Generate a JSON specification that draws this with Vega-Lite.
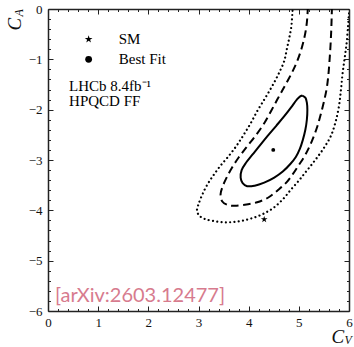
{
  "$schema": "https://vega.github.io/schema/vega-lite/v6.json",
  "width": 301,
  "height": 302,
  "autosize": {"type": "none"},
  "padding": {"left": 48, "top": 9, "right": 5, "bottom": 36},
  "background": "white",
  "config": {
    "view": {"stroke": null},
    "axis": {
      "grid": false,
      "domainColor": "#222",
      "domainWidth": 1.5,
      "tickColor": "#222",
      "tickWidth": 1,
      "labelFont": "Liberation Serif",
      "labelFontSize": 13,
      "labelColor": "#111",
      "labelFlush": false,
      "labelOverlap": false,
      "labelBound": false,
      "titleFont": "Liberation Serif",
      "titleFontWeight": "normal",
      "titleFontStyle": "italic",
      "titleColor": "#111"
    }
  },
  "datasets": {
    "dotted": [
      {"i": 1, "x": 4.88, "y": 0.05}, {"i": 2, "x": 4.87, "y": -0.1}, {"i": 3, "x": 4.85, "y": -0.35},
      {"i": 4, "x": 4.81, "y": -0.57}, {"i": 5, "x": 4.76, "y": -0.8}, {"i": 6, "x": 4.71, "y": -1.03},
      {"i": 7, "x": 4.63, "y": -1.22}, {"i": 8, "x": 4.54, "y": -1.4}, {"i": 9, "x": 4.43, "y": -1.6},
      {"i": 10, "x": 4.31, "y": -1.8}, {"i": 11, "x": 4.17, "y": -2.03}, {"i": 12, "x": 4.04, "y": -2.27},
      {"i": 13, "x": 3.9, "y": -2.5}, {"i": 14, "x": 3.77, "y": -2.7}, {"i": 15, "x": 3.62, "y": -2.9},
      {"i": 16, "x": 3.45, "y": -3.1}, {"i": 17, "x": 3.3, "y": -3.3}, {"i": 18, "x": 3.17, "y": -3.5},
      {"i": 19, "x": 3.07, "y": -3.7}, {"i": 20, "x": 3.0, "y": -3.88}, {"i": 21, "x": 2.97, "y": -4.0},
      {"i": 22, "x": 3.01, "y": -4.1}, {"i": 23, "x": 3.12, "y": -4.17}, {"i": 24, "x": 3.3, "y": -4.21},
      {"i": 25, "x": 3.51, "y": -4.24}, {"i": 26, "x": 3.7, "y": -4.23}, {"i": 27, "x": 3.9, "y": -4.2},
      {"i": 28, "x": 4.12, "y": -4.14}, {"i": 29, "x": 4.33, "y": -4.05}, {"i": 30, "x": 4.52, "y": -3.93},
      {"i": 31, "x": 4.7, "y": -3.76}, {"i": 32, "x": 4.85, "y": -3.58}, {"i": 33, "x": 5.0, "y": -3.41},
      {"i": 34, "x": 5.12, "y": -3.26}, {"i": 35, "x": 5.25, "y": -3.1}, {"i": 36, "x": 5.38, "y": -2.93},
      {"i": 37, "x": 5.52, "y": -2.73}, {"i": 38, "x": 5.64, "y": -2.52}, {"i": 39, "x": 5.73, "y": -2.25},
      {"i": 40, "x": 5.8, "y": -1.93}, {"i": 41, "x": 5.84, "y": -1.6}, {"i": 42, "x": 5.87, "y": -1.3},
      {"i": 43, "x": 5.91, "y": -1.0}, {"i": 44, "x": 5.95, "y": -0.7}, {"i": 45, "x": 5.98, "y": -0.35},
      {"i": 46, "x": 6.0, "y": -0.1}, {"i": 47, "x": 6.02, "y": 0.05}
    ],
    "dashed": [
      {"i": 1, "x": 5.18, "y": 0.05}, {"i": 2, "x": 5.17, "y": -0.15}, {"i": 3, "x": 5.15, "y": -0.35},
      {"i": 4, "x": 5.11, "y": -0.57}, {"i": 5, "x": 5.05, "y": -0.8}, {"i": 6, "x": 4.97, "y": -1.03},
      {"i": 7, "x": 4.88, "y": -1.23}, {"i": 8, "x": 4.78, "y": -1.42}, {"i": 9, "x": 4.67, "y": -1.62},
      {"i": 10, "x": 4.57, "y": -1.8}, {"i": 11, "x": 4.45, "y": -2.02}, {"i": 12, "x": 4.31, "y": -2.27},
      {"i": 13, "x": 4.15, "y": -2.5}, {"i": 14, "x": 3.97, "y": -2.73}, {"i": 15, "x": 3.8, "y": -2.95},
      {"i": 16, "x": 3.67, "y": -3.15}, {"i": 17, "x": 3.56, "y": -3.35}, {"i": 18, "x": 3.48, "y": -3.53},
      {"i": 19, "x": 3.44, "y": -3.68}, {"i": 20, "x": 3.47, "y": -3.82}, {"i": 21, "x": 3.57, "y": -3.89},
      {"i": 22, "x": 3.71, "y": -3.91}, {"i": 23, "x": 3.92, "y": -3.89}, {"i": 24, "x": 4.17, "y": -3.84},
      {"i": 25, "x": 4.4, "y": -3.74}, {"i": 26, "x": 4.58, "y": -3.6}, {"i": 27, "x": 4.75, "y": -3.45},
      {"i": 28, "x": 4.88, "y": -3.28}, {"i": 29, "x": 5.0, "y": -3.1}, {"i": 30, "x": 5.11, "y": -2.93},
      {"i": 31, "x": 5.2, "y": -2.76}, {"i": 32, "x": 5.29, "y": -2.55}, {"i": 33, "x": 5.37, "y": -2.33},
      {"i": 34, "x": 5.44, "y": -2.08}, {"i": 35, "x": 5.51, "y": -1.8}, {"i": 36, "x": 5.56, "y": -1.55},
      {"i": 37, "x": 5.59, "y": -1.3}, {"i": 38, "x": 5.61, "y": -1.05}, {"i": 39, "x": 5.63, "y": -0.75},
      {"i": 40, "x": 5.645, "y": -0.45}, {"i": 41, "x": 5.655, "y": -0.15}, {"i": 42, "x": 5.66, "y": 0.05}
    ],
    "solid": [
      {"i": 1, "x": 5.07, "y": -1.72}, {"i": 2, "x": 5.13, "y": -1.76}, {"i": 3, "x": 5.16, "y": -1.86},
      {"i": 4, "x": 5.17, "y": -2.0}, {"i": 5, "x": 5.16, "y": -2.2}, {"i": 6, "x": 5.13, "y": -2.4},
      {"i": 7, "x": 5.08, "y": -2.6}, {"i": 8, "x": 5.02, "y": -2.78}, {"i": 9, "x": 4.94, "y": -2.94},
      {"i": 10, "x": 4.83, "y": -3.08}, {"i": 11, "x": 4.68, "y": -3.23}, {"i": 12, "x": 4.51, "y": -3.35},
      {"i": 13, "x": 4.31, "y": -3.45}, {"i": 14, "x": 4.12, "y": -3.51}, {"i": 15, "x": 3.97, "y": -3.52},
      {"i": 16, "x": 3.88, "y": -3.46}, {"i": 17, "x": 3.84, "y": -3.35}, {"i": 18, "x": 3.86, "y": -3.2},
      {"i": 19, "x": 3.95, "y": -3.05}, {"i": 20, "x": 4.07, "y": -2.9}, {"i": 21, "x": 4.2, "y": -2.74},
      {"i": 22, "x": 4.37, "y": -2.53}, {"i": 23, "x": 4.55, "y": -2.32}, {"i": 24, "x": 4.71, "y": -2.13},
      {"i": 25, "x": 4.85, "y": -1.95}, {"i": 26, "x": 4.96, "y": -1.8}, {"i": 27, "x": 5.02, "y": -1.74},
      {"i": 28, "x": 5.07, "y": -1.72}
    ],
    "sm": [{"x": 4.31, "y": -4.18}],
    "bestfit": [{"x": 4.49, "y": -2.8}],
    "legstar": [{"x": 0.81, "y": -0.6}],
    "legdot": [{"x": 0.81, "y": -1.0}],
    "labels": [
      {"x": 1.41, "y": -0.6, "t": "SM"},
      {"x": 1.41, "y": -1.0, "t": "Best Fit"},
      {"x": 0.42, "y": -1.52, "t": "LHCb 8.4fb⁻¹"},
      {"x": 0.42, "y": -1.82, "t": "HPQCD FF"}
    ],
    "arxiv": [{"x": 0.14, "y": -5.82, "t": "[arXiv:2603.12477]"}]
  },
  "resolve": {"axis": {"x": "independent", "y": "independent"}},
  "layer": [
    {
      "data": {"name": "dotted"},
      "mark": {"type": "line", "clip": true, "color": "black", "strokeWidth": 2.2, "strokeDash": [0.01, 4.3], "strokeCap": "round", "interpolate": "catmull-rom"},
      "encoding": {
        "order": {"field": "i", "type": "quantitative"},
        "x": {"field": "x", "type": "quantitative", "scale": {"domain": [0, 6], "nice": false, "zero": false},
          "axis": {"orient": "bottom", "values": [0, 1, 2, 3, 4, 5, 6], "ticks": false, "labelPadding": 5,
            "title": "C", "titleFontSize": 19, "titleX": 283, "titleY": 31, "titleAlign": "left", "titleBaseline": "alphabetic", "titleAngle": 0}},
        "y": {"field": "y", "type": "quantitative", "scale": {"domain": [-6, 0], "nice": false, "zero": false},
          "axis": {"orient": "left", "values": [-6, -5, -4, -3, -2, -1, 0], "ticks": false, "labelPadding": 6,
            "title": "C", "titleFontSize": 19, "titleX": -28, "titleY": 21, "titleAlign": "left", "titleBaseline": "alphabetic", "titleAngle": 270}}
      }
    },
    {
      "data": {"name": "dashed"},
      "mark": {"type": "line", "clip": true, "color": "black", "strokeWidth": 2, "strokeDash": [7.5, 4.5], "interpolate": "catmull-rom"},
      "encoding": {
        "order": {"field": "i", "type": "quantitative"},
        "x": {"field": "x", "type": "quantitative", "scale": {"domain": [0, 6], "nice": false, "zero": false},
          "axis": {"orient": "top", "values": [0, 1, 2, 3, 4, 5, 6], "labels": false, "tickSize": -5,
            "title": "V", "titleFontSize": 12, "titleX": 296, "titleY": 334, "titleAlign": "left", "titleBaseline": "alphabetic", "titleAngle": 0}},
        "y": {"field": "y", "type": "quantitative", "scale": {"domain": [-6, 0], "nice": false, "zero": false},
          "axis": {"orient": "right", "values": [-6, -5, -4, -3, -2, -1, 0], "labels": false, "tickSize": -5,
            "title": "A", "titleFontSize": 12, "titleX": -327, "titleY": 7, "titleAlign": "left", "titleBaseline": "alphabetic", "titleAngle": 270}}
      }
    },
    {
      "data": {"name": "solid"},
      "mark": {"type": "line", "clip": true, "color": "black", "strokeWidth": 2, "interpolate": "catmull-rom"},
      "encoding": {
        "order": {"field": "i", "type": "quantitative"},
        "x": {"field": "x", "type": "quantitative", "scale": {"domain": [0, 6], "nice": false, "zero": false},
          "axis": {"orient": "bottom", "values": [0, 1, 2, 3, 4, 5, 6], "labels": false, "domain": false, "tickSize": -5, "title": null}},
        "y": {"field": "y", "type": "quantitative", "scale": {"domain": [-6, 0], "nice": false, "zero": false},
          "axis": {"orient": "left", "values": [-6, -5, -4, -3, -2, -1, 0], "labels": false, "domain": false, "tickSize": -5, "title": null}}
      }
    },
    {
      "data": {"name": "sm"},
      "mark": {"type": "point", "shape": "M0,-1L0.2245,-0.309L0.951,-0.309L0.363,0.118L0.588,0.809L0,0.382L-0.588,0.809L-0.363,0.118L-0.951,-0.309L-0.2245,-0.309Z", "filled": true, "color": "black", "opacity": 1, "size": 49},
      "encoding": {
        "x": {"field": "x", "type": "quantitative", "scale": {"domain": [0, 6], "nice": false, "zero": false},
          "axis": {"orient": "top", "values": [0.2, 0.4, 0.6, 0.8, 1.2, 1.4, 1.6, 1.8, 2.2, 2.4, 2.6, 2.8, 3.2, 3.4, 3.6, 3.8, 4.2, 4.4, 4.6, 4.8, 5.2, 5.4, 5.6, 5.8], "labels": false, "domain": false, "tickSize": -2.5, "title": null}},
        "y": {"field": "y", "type": "quantitative", "scale": {"domain": [-6, 0], "nice": false, "zero": false},
          "axis": {"orient": "right", "values": [-5.8, -5.6, -5.4, -5.2, -4.8, -4.6, -4.4, -4.2, -3.8, -3.6, -3.4, -3.2, -2.8, -2.6, -2.4, -2.2, -1.8, -1.6, -1.4, -1.2, -0.8, -0.6, -0.4, -0.2], "labels": false, "domain": false, "tickSize": -2.5, "title": null}}
      }
    },
    {
      "data": {"name": "bestfit"},
      "mark": {"type": "point", "shape": "circle", "filled": true, "color": "black", "opacity": 1, "size": 15},
      "encoding": {
        "x": {"field": "x", "type": "quantitative", "scale": {"domain": [0, 6], "nice": false, "zero": false},
          "axis": {"orient": "bottom", "values": [0.2, 0.4, 0.6, 0.8, 1.2, 1.4, 1.6, 1.8, 2.2, 2.4, 2.6, 2.8, 3.2, 3.4, 3.6, 3.8, 4.2, 4.4, 4.6, 4.8, 5.2, 5.4, 5.6, 5.8], "labels": false, "domain": false, "tickSize": -2.5, "title": null}},
        "y": {"field": "y", "type": "quantitative", "scale": {"domain": [-6, 0], "nice": false, "zero": false},
          "axis": {"orient": "left", "values": [-5.8, -5.6, -5.4, -5.2, -4.8, -4.6, -4.4, -4.2, -3.8, -3.6, -3.4, -3.2, -2.8, -2.6, -2.4, -2.2, -1.8, -1.6, -1.4, -1.2, -0.8, -0.6, -0.4, -0.2], "labels": false, "domain": false, "tickSize": -2.5, "title": null}}
      }
    },
    {
      "data": {"name": "legstar"},
      "mark": {"type": "point", "shape": "M0,-1L0.2245,-0.309L0.951,-0.309L0.363,0.118L0.588,0.809L0,0.382L-0.588,0.809L-0.363,0.118L-0.951,-0.309L-0.2245,-0.309Z", "filled": true, "color": "black", "opacity": 1, "size": 66},
      "encoding": {
        "x": {"field": "x", "type": "quantitative", "scale": {"domain": [0, 6], "nice": false, "zero": false}, "axis": null},
        "y": {"field": "y", "type": "quantitative", "scale": {"domain": [-6, 0], "nice": false, "zero": false}, "axis": null}
      }
    },
    {
      "data": {"name": "legdot"},
      "mark": {"type": "point", "shape": "circle", "filled": true, "color": "black", "opacity": 1, "size": 46},
      "encoding": {
        "x": {"field": "x", "type": "quantitative", "scale": {"domain": [0, 6], "nice": false, "zero": false}, "axis": null},
        "y": {"field": "y", "type": "quantitative", "scale": {"domain": [-6, 0], "nice": false, "zero": false}, "axis": null}
      }
    },
    {
      "data": {"name": "labels"},
      "mark": {"type": "text", "align": "left", "baseline": "middle", "font": "Liberation Serif", "fontSize": 15, "color": "black"},
      "encoding": {
        "x": {"field": "x", "type": "quantitative", "scale": {"domain": [0, 6], "nice": false, "zero": false}, "axis": null},
        "y": {"field": "y", "type": "quantitative", "scale": {"domain": [-6, 0], "nice": false, "zero": false}, "axis": null},
        "text": {"field": "t"}
      }
    },
    {
      "data": {"name": "arxiv"},
      "mark": {"type": "text", "align": "left", "baseline": "alphabetic", "font": "Lato", "fontSize": 20, "color": "#d77b8e"},
      "encoding": {
        "x": {"field": "x", "type": "quantitative", "scale": {"domain": [0, 6], "nice": false, "zero": false}, "axis": null},
        "y": {"field": "y", "type": "quantitative", "scale": {"domain": [-6, 0], "nice": false, "zero": false}, "axis": null},
        "text": {"field": "t"}
      }
    }
  ]
}
